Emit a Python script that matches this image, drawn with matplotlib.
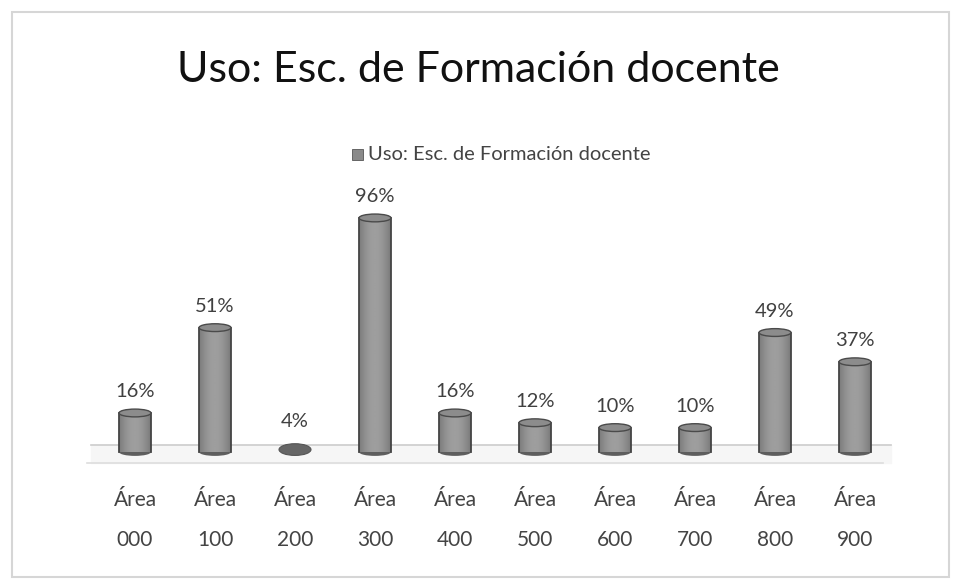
import numpy as np
import matplotlib
matplotlib.use("Agg")
import matplotlib.pyplot as plt
from matplotlib.patches import Ellipse, Rectangle

categories = ["Área\n000", "Área\n100", "Área\n200", "Área\n300", "Área\n400",
              "Área\n500", "Área\n600", "Área\n700", "Área\n800", "Área\n900"]
values = [16, 51, 4, 96, 16, 12, 10, 10, 49, 37]
labels = ["16%", "51%", "4%", "96%", "16%", "12%", "10%", "10%", "49%", "37%"]
series_name = "Uso: Esc. de Formación docente"

plt.rcParams['font.family'] = ['Lato', 'DejaVu Sans']

W, H = 957, 581
fig = plt.figure(figsize=(W / 100, H / 100), dpi=100)
fig.patch.set_facecolor("white")

# outer frame
fig.patches.append(Rectangle((12 / W, 4 / H), (W - 20) / W, (H - 16) / H,
                             transform=fig.transFigure, fill=False,
                             edgecolor="#d6d6d6", linewidth=1.5))

ax_left, ax_right = 95, 895
ax_bottom_px, ax_top_px = 452, 196
ax = fig.add_axes([ax_left / W, (H - ax_bottom_px) / H,
                   (ax_right - ax_left) / W, (ax_bottom_px - ax_top_px) / H])
ax.set_xlim(-0.5, 9.5)
ax.set_ylim(0, 105)
ax.axis("off")

x = np.arange(len(values))
bw = 0.4
cap_h = 3.2

# floor
ax.fill_between([-0.55, 9.45], [-4.5, -4.5], [3, 3], color="#f6f6f6", zorder=0, clip_on=False)
ax.plot([-0.55, 9.45], [3, 3], color="#cccccc", lw=1.2, zorder=1, clip_on=False)
ax.plot([-0.6, 9.35], [-4.5, -4.5], color="#dddddd", lw=1.2, zorder=1, clip_on=False)

grad = np.linspace(0, 1, 64)
shade = 0.36 + 0.26 * np.sin(np.pi * (0.15 + 0.7 * grad))
img = np.tile(shade, (2, 1))

for xi, v, lab in zip(x, values, labels):
    if v >= 8:
        ax.imshow(img, cmap="gray", vmin=0, vmax=1, aspect="auto",
                  extent=(xi - bw / 2, xi + bw / 2, 0, v), zorder=3,
                  interpolation="bilinear", clip_on=False)
        ax.plot([xi - bw / 2, xi - bw / 2], [0, v], color="#444444", lw=1.3, zorder=4, clip_on=False)
        ax.plot([xi + bw / 2, xi + bw / 2], [0, v], color="#444444", lw=1.3, zorder=4, clip_on=False)
        ax.add_patch(Ellipse((xi, 0), bw, cap_h, facecolor="#5e5e5e",
                             edgecolor="none", zorder=2, clip_on=False))
        ax.add_patch(Ellipse((xi, v), bw, cap_h, facecolor="#8c8c8c",
                             edgecolor="#4a4a4a", lw=1.0, zorder=5, clip_on=False))
    else:
        ax.add_patch(Ellipse((xi, v / 2 - 1), bw, cap_h + v * 0.4, facecolor="#666666",
                             edgecolor="#555555", lw=0.8, zorder=5, clip_on=False))
    ax.text(xi, v + 5.2, lab, ha="center", va="bottom", fontsize=14.5,
            color="#404040", zorder=6)

for xi, cat in zip(x, categories):
    ax.text(xi, -15.5, cat, ha="center", va="top", fontsize=15, color="#444444",
            linespacing=2.25)

fig.text(0.5, (H - 70) / H, "Uso: Esc. de Formación docente", ha="center", va="center",
         fontsize=31, color="#111111")

# legend
fig.patches.append(Rectangle((352 / W, (H - 160) / H), 11 / W, 11 / H,
                             transform=fig.transFigure, facecolor="#8a8a8a",
                             edgecolor="#555555", linewidth=0.6))
fig.text(368 / W, (H - 154) / H, series_name, ha="left", va="center",
         fontsize=14.5, color="#444444")

fig.savefig("out.png", dpi=100, facecolor="white")
